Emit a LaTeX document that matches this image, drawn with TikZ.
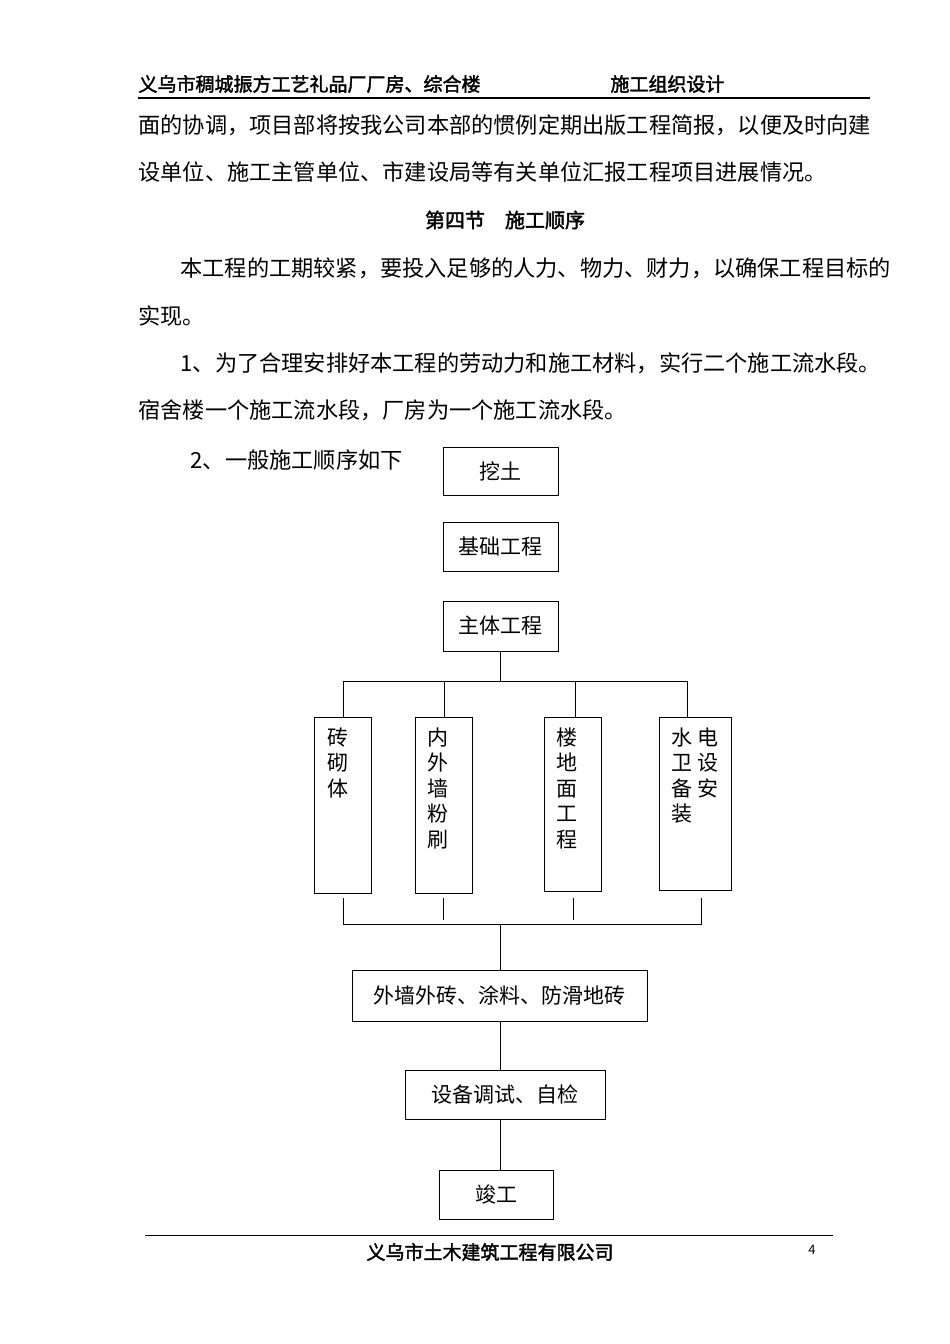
\documentclass[tikz,border=0pt]{standalone}
\usepackage{fontspec}
\setmainfont{Noto Sans CJK SC}
\newfontfamily\cjkb[FakeBold=2]{Noto Sans CJK SC}
\begin{document}
\begin{tikzpicture}[x=1pt,y=-1pt,line width=1pt,
  txt/.style={anchor=west,inner sep=0pt,font=\fontsize{22.2}{24}\selectfont},
  bx/.style={draw,inner sep=0pt,font=\fontsize{21}{25}\selectfont},
  col/.style={draw,inner sep=0pt,minimum width=57pt,minimum height=176pt,anchor=north west},
  ct/.style={anchor=north,inner sep=0pt,align=center,font=\fontsize{21}{25.5}\selectfont}]
\useasboundingbox (0,0) rectangle (950,1344);
% header
\node[anchor=west,inner sep=0pt,font=\cjkb\fontsize{19}{20}\selectfont] (h1) at (138,84) {义乌市稠城振方工艺礼品厂厂房、综合楼};
\node[anchor=west,inner sep=0pt,font=\cjkb\fontsize{19}{20}\selectfont] (h2) at (610,84) {施工组织设计};
\draw[line width=1.5pt] (138,98) -- (870,98);
% body
\node[txt] (l1) at (138,125) {面的协调，项目部将按我公司本部的惯例定期出版工程简报，以便及时向建};
\node[txt] (l2) at (138,172) {设单位、施工主管单位、市建设局等有关单位汇报工程项目进展情况。};
\node[inner sep=0pt,font=\cjkb\fontsize{20}{22}\selectfont] (sec) at (505,220) {第四节\quad 施工顺序};
\node[txt] (l3) at (180,268) {本工程的工期较紧，要投入足够的人力、物力、财力，以确保工程目标的};
\node[txt] (l4) at (138,316) {实现。};
\node[txt] (l5) at (180,363) {1、为了合理安排好本工程的劳动力和施工材料，实行二个施工流水段。};
\node[txt] (l6) at (138,410) {宿舍楼一个施工流水段，厂房为一个施工流水段。};
\node[txt] (l7) at (190,460) {2、一般施工顺序如下};
% chart
\node[bx,minimum width=115pt,minimum height=48pt] (wt) at (500.5,471) {挖土};
\node[bx,minimum width=115pt,minimum height=49pt] (jc) at (500.5,546.5) {基础工程};
\node[bx,minimum width=115pt,minimum height=50pt] (zt) at (500.5,626) {主体工程};
\node[col] (c1) at (314,717) {};
\node[col] (c2) at (415,717) {};
\node[col,minimum height=174pt] (c3) at (544,717) {};
\node[col,minimum width=72pt,minimum height=173pt] (c4) at (659,717) {};
\node[ct] (t1) at (338,727) {砖\\砌\\体};
\node[ct] (t2) at (438,727) {内\\外\\墙\\粉\\刷};
\node[ct] (t3) at (567,727) {楼\\地\\面\\工\\程};
\node[ct] (t4) at (695,727) {水\;电\\卫\;设\\备\;安\\装\phantom{\;安}};
\node[bx,minimum width=295pt,minimum height=51pt] (wq) at (499.5,995.5) {外墙外砖、涂料、防滑地砖};
\node[bx,minimum width=200pt,minimum height=49pt] (sb) at (505,1094.5) {设备调试、自检};
\node[bx,minimum width=114pt,minimum height=49pt] (jg) at (496,1194.5) {竣工};
\coordinate (top) at (500,681);
\coordinate (bot) at (500,924);
\draw (zt.south -| top) -- (top);
\draw (343,717) -- (343,681) -- (687,681) -- (687,717);
\draw (444,681) -- (444,717);
\draw (575,681) -- (575,717);
\draw (343,898) -- (343,924) -- (701,924) -- (701,898);
\draw (443,898) -- (443,920);
\draw (573,898) -- (573,920);
\draw (bot) -- (wq.north -| bot);
\draw (wq.south -| bot) -- (sb.north -| bot);
\draw (sb.south -| bot) -- (jg.north -| bot);
% footer
\draw (145,1235) -- (833,1235);
\node[inner sep=0pt,font=\cjkb\fontsize{19}{20}\selectfont] (ft) at (490,1252) {义乌市土木建筑工程有限公司};
\node[inner sep=0pt,font=\fontsize{13}{14}\selectfont] (pg) at (812,1250) {4};
\end{tikzpicture}
\end{document}
